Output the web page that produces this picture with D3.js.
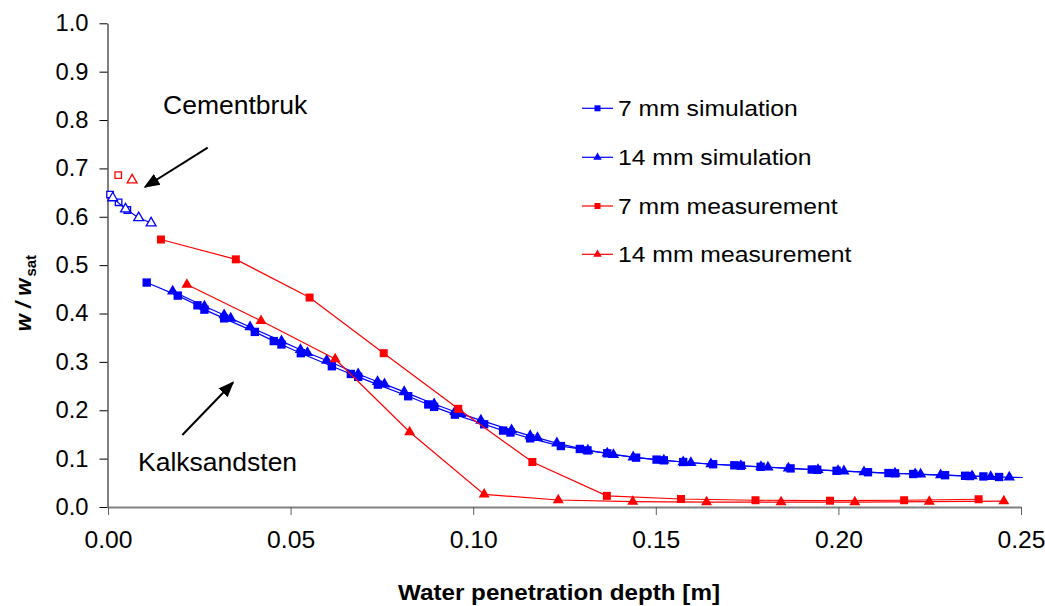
<!DOCTYPE html>
<html>
<head>
<meta charset="utf-8">
<script src="https://cdn.jsdelivr.net/npm/d3@7"></script>
<style>
  body { margin: 0; background: #fff; }
  svg { display: block; font-family: "Liberation Sans", Arial, sans-serif; }
</style>
</head>
<body>
<svg id="chart" width="1045" height="606"></svg>
<script>
// Kalksandsten: 7 mm simulation (filled squares)
const sim7X = [0.0106, 0.0191, 0.0245, 0.0264, 0.0318, 0.0402, 0.0454, 0.0475, 0.0528, 0.0613,
  0.0665, 0.0685, 0.0739, 0.0822, 0.0877, 0.0893, 0.0950, 0.1030, 0.1082, 0.1102,
  0.1156, 0.1240, 0.1292, 0.1313, 0.1367, 0.1446, 0.1502, 0.1522, 0.1575, 0.1657,
  0.1715, 0.1733, 0.1787, 0.1869, 0.1927, 0.1942, 0.1995, 0.2081, 0.2137, 0.2155,
  0.2205, 0.2292, 0.2347, 0.2360, 0.2397, 0.2440];
const sim7Y = [0.464, 0.437, 0.417, 0.408, 0.390, 0.362, 0.343, 0.336, 0.318, 0.291,
  0.275, 0.269, 0.253, 0.229, 0.212, 0.207, 0.191, 0.171, 0.158, 0.154,
  0.142, 0.126, 0.120, 0.117, 0.111, 0.102, 0.098, 0.0965, 0.093, 0.0884,
  0.0862, 0.0853, 0.0831, 0.0798, 0.0775, 0.0769, 0.0748, 0.0719, 0.0702, 0.0696,
  0.0682, 0.0657, 0.0645, 0.0640, 0.0632, 0.0620];

// Kalksandsten: 14 mm simulation (filled triangles)
const sim14X = [0.0177, 0.0264, 0.0318, 0.0336, 0.0389, 0.0475, 0.0527, 0.0546, 0.0599, 0.0685,
  0.0738, 0.0757, 0.0811, 0.0893, 0.0950, 0.0966, 0.1021, 0.1105, 0.1156, 0.1176,
  0.1229, 0.1314, 0.1367, 0.1384, 0.1438, 0.1522, 0.1575, 0.1596, 0.1651, 0.1733,
  0.1788, 0.1807, 0.1863, 0.1944, 0.1999, 0.2015, 0.2070, 0.2155, 0.2210, 0.2225,
  0.2280, 0.2366, 0.2417, 0.2468, 0.2505];
const sim14Y = [0.446, 0.415, 0.397, 0.390, 0.372, 0.343, 0.325, 0.319, 0.303, 0.275,
  0.259, 0.254, 0.238, 0.213, 0.197, 0.193, 0.179, 0.159, 0.147, 0.143,
  0.132, 0.117, 0.111, 0.108, 0.103, 0.0965, 0.093, 0.0915, 0.0888, 0.0853,
  0.0831, 0.0822, 0.0800, 0.0769, 0.0748, 0.0742, 0.0723, 0.0696, 0.0682, 0.0676,
  0.0661, 0.0640, 0.0626, 0.0614, 0.0610];
// the last point of the 14 mm line carries no marker in the reference
const sim14Unmarked = 1;

// Kalksandsten: measurements
const meas7X = [0.0145, 0.0350, 0.0552, 0.0755, 0.0959, 0.1162, 0.1366, 0.1569, 0.1773, 0.1977, 0.2180, 0.2384];
const meas7Y = [0.553, 0.512, 0.433, 0.318, 0.203, 0.093, 0.023, 0.0165, 0.014, 0.013, 0.014, 0.016];
const meas14X = [0.0216, 0.0419, 0.0622, 0.0826, 0.1030, 0.1233, 0.1437, 0.1639, 0.1843, 0.2045, 0.2249, 0.2453];
const meas14Y = [0.460, 0.385, 0.306, 0.155, 0.026, 0.0145, 0.011, 0.010, 0.010, 0.010, 0.011, 0.012];

// Cementbruk (open markers, not in legend)
const cemSim7X = [0.00055, 0.0029, 0.0053];
const cemSim7Y = [0.646, 0.630, 0.614];
const cemSim14X = [0.0013, 0.0048, 0.0084, 0.0118];
const cemSim14Y = [0.639, 0.616, 0.598, 0.587];
const cemMeas7X = [0.0028];
const cemMeas7Y = [0.686];
const cemMeas14X = [0.0066];
const cemMeas14Y = [0.676];

const xTicks = [0, 0.05, 0.10, 0.15, 0.20, 0.25];
const yTicks = [0, 0.1, 0.2, 0.3, 0.4, 0.5, 0.6, 0.7, 0.8, 0.9, 1.0];
const legendLabels = ["7 mm simulation", "14 mm simulation", "7 mm measurement", "14 mm measurement"];

const BLUE = "#0000ff", RED = "#ff0000";

const svg = d3.select("#chart");
svg.append("rect").attr("width", 1045).attr("height", 606).attr("fill", "#fff");

const x = d3.scaleLinear().domain([0, 0.25]).range([108, 1021]);
const y = d3.scaleLinear().domain([0, 1]).range([507, 23.3]);

// axes
const yAxis = svg.append("g")
  .attr("transform", "translate(107.5,0)")
  .call(d3.axisLeft(y).tickValues(yTicks).tickFormat(d3.format(".1f")).tickSize(8).tickPadding(11).tickSizeOuter(0));
yAxis.selectAll("path, line").attr("stroke", "#000");
yAxis.selectAll("text").attr("font-size", 23).attr("fill", "#000")
  .attr("font-family", "Liberation Sans, Arial, sans-serif")
  .attr("textLength", 33).attr("lengthAdjust", "spacingAndGlyphs");

const xAxis = svg.append("g")
  .attr("transform", "translate(0,507)")
  .call(d3.axisBottom(x).tickValues(xTicks).tickFormat(d3.format(".2f")).tickSize(8).tickPadding(17).tickSizeOuter(0));
xAxis.select("path").attr("stroke", "#808080").attr("stroke-width", 2);
xAxis.selectAll("line").attr("stroke", "#606060");
xAxis.selectAll("text").attr("font-size", 23).attr("fill", "#000")
  .attr("font-family", "Liberation Sans, Arial, sans-serif")
  .attr("textLength", 48).attr("lengthAdjust", "spacingAndGlyphs");

// axis titles
svg.append("text")
  .attr("x", 559).attr("y", 600)
  .attr("text-anchor", "middle")
  .attr("font-size", 21.5).attr("font-weight", "bold")
  .attr("textLength", 322).attr("lengthAdjust", "spacingAndGlyphs")
  .text("Water penetration depth [m]");

const yTitle = svg.append("text")
  .attr("transform", "translate(31,293) rotate(-90)")
  .attr("text-anchor", "middle")
  .attr("font-weight", "bold");
yTitle.append("tspan").attr("font-size", 22).attr("font-style", "italic").text("w / w");
yTitle.append("tspan").attr("font-size", 15).attr("dy", 5).attr("dx", 2).text("sat");

// helpers
const sq = d3.symbol().type(d3.symbolSquare);
const tri = d3.symbol().type(d3.symbolTriangle);
const line = d3.line().x(d => x(d[0])).y(d => y(d[1]));

function drawSeries(xs, ys, color, shape, size, open, unmarked = 0) {
  const pts = xs.map((v, i) => [v, ys[i]]);
  const g = svg.append("g");
  if (pts.length > 1) {
    g.append("path").attr("d", line(pts))
      .attr("fill", "none").attr("stroke", color).attr("stroke-width", 1.2);
  }
  g.selectAll("path.m").data(pts.slice(0, pts.length - unmarked)).enter().append("path")
    .attr("class", "m")
    .attr("d", (shape === "sq" ? sq : tri).size(size)())
    .attr("transform", d => `translate(${x(d[0])},${y(d[1])})`)
    .attr("fill", open ? "#fff" : color)
    .attr("stroke", open ? color : "none")
    .attr("stroke-width", 1.3);
}

// Cementbruk
drawSeries(cemSim7X, cemSim7Y, BLUE, "sq", 42, true);
drawSeries(cemSim14X, cemSim14Y, BLUE, "tri", 42, true);
drawSeries(cemMeas7X, cemMeas7Y, RED, "sq", 42, true);
drawSeries(cemMeas14X, cemMeas14Y, RED, "tri", 42, true);

// Kalksandsten
drawSeries(sim14X, sim14Y, BLUE, "tri", 56, false, sim14Unmarked);
drawSeries(sim7X, sim7Y, BLUE, "sq", 70, false);
drawSeries(meas7X, meas7Y, RED, "sq", 64, false);
drawSeries(meas14X, meas14Y, RED, "tri", 52, false);

// annotations
svg.append("defs").append("marker")
  .attr("id", "arrow")
  .attr("viewBox", "0 -5 10 10")
  .attr("refX", 9).attr("refY", 0)
  .attr("markerWidth", 8).attr("markerHeight", 8)
  .attr("markerUnits", "strokeWidth")
  .attr("orient", "auto")
  .append("path").attr("d", "M0,-4L10,0L0,4Z").attr("fill", "#000");

svg.append("line").attr("x1", 207.7).attr("y1", 147.7).attr("x2", 145).attr("y2", 187)
  .attr("stroke", "#000").attr("stroke-width", 2).attr("marker-end", "url(#arrow)");
svg.append("line").attr("x1", 182.3).attr("y1", 435).attr("x2", 233).attr("y2", 382.5)
  .attr("stroke", "#000").attr("stroke-width", 2).attr("marker-end", "url(#arrow)");

svg.append("text").attr("x", 163).attr("y", 114).attr("font-size", 26.5).text("Cementbruk");
svg.append("text").attr("x", 138).attr("y", 471).attr("font-size", 26.5).text("Kalksandsten");

// legend
const legendColors = [BLUE, BLUE, RED, RED];
const legendShapes = ["sq", "tri", "sq", "tri"];
const legendY = [108.3, 157.3, 206, 254.3];
legendLabels.forEach((lab, i) => {
  const g = svg.append("g").attr("transform", `translate(0,${legendY[i]})`);
  g.append("line").attr("x1", 582).attr("x2", 613).attr("y1", 0).attr("y2", 0)
    .attr("stroke", legendColors[i]).attr("stroke-width", 1.2);
  g.append("path")
    .attr("d", (legendShapes[i] === "sq" ? sq : tri).size(legendShapes[i] === "sq" ? 36 : 30)())
    .attr("transform", "translate(597.5,0)")
    .attr("fill", legendColors[i]);
  g.append("text").attr("x", 618).attr("y", 8).attr("font-size", 23)
    .attr("transform", "translate(618,0) scale(1.075,1) translate(-618,0)")
    .text(lab);
});
</script>
</body>
</html>
